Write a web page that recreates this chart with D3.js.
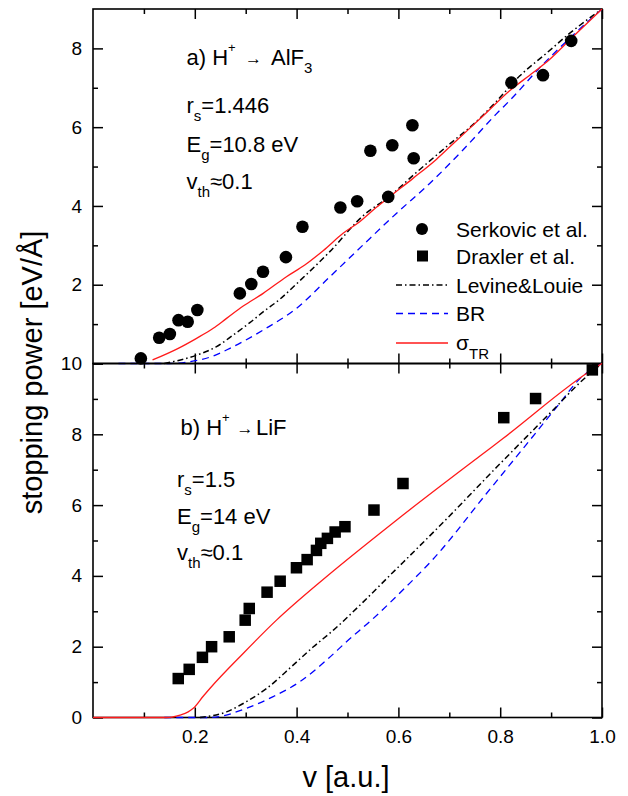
<!DOCTYPE html>
<html>
<head>
<meta charset="utf-8">
<script src="https://cdn.jsdelivr.net/npm/d3@7"></script>
<style>
  html, body { margin: 0; padding: 0; background: #fff; }
  svg { display: block; }
  text { font-family: "Liberation Sans", Arial, Helvetica, sans-serif; fill: #000; }
</style>
</head>
<body>
<svg id="chart" width="628" height="796"></svg>
<script>
// ---- data -------------------------------------------------------------
const xTickValues = [0.2, 0.4, 0.6, 0.8, 1.0];
const xMinorValues = [0.1, 0.3, 0.5, 0.7, 0.9];
const topMajor = [0, 2, 4, 6, 8];
const topMinor = [1, 3, 5, 7];
const botMajor = [0, 2, 4, 6, 8, 10];
const botMinor = [1, 3, 5, 7, 9];

// (a) H+ -> AlF3 : Serkovic et al. measurements
const serkovicV = [0.094, 0.130, 0.151, 0.168, 0.186, 0.205, 0.2885, 0.311, 0.334, 0.379, 0.4115,
                   0.486, 0.519, 0.545, 0.580, 0.588, 0.6275, 0.630, 0.822, 0.884, 0.9395];
const serkovicS = [0.13, 0.655, 0.75, 1.10, 1.06, 1.36, 1.78, 2.02, 2.33, 2.70, 3.47,
                   3.96, 4.12, 5.40, 4.23, 5.54, 6.05, 5.21, 7.13, 7.32, 8.19];

// (a) theory curves
const alf3LevineV = [0.14, 0.21, 0.2427, 0.2754, 0.3081, 0.3343, 0.367, 0.3997, 0.4652, 0.5306, 0.583,
                     0.6353, 0.694, 0.7596, 0.79, 0.8381, 0.8904, 0.9362, 1.0];
const alf3LevineS = [0, 0.241, 0.427, 0.723, 1.036, 1.31, 1.63, 2.02, 2.84, 3.75, 4.25,
                     4.85, 5.50, 6.22, 6.62, 7.297, 7.872, 8.38, 9.0];
const alf3BrV = [0.05, 0.15, 0.1904, 0.2362, 0.2689, 0.3343, 0.3997, 0.4652, 0.5306, 0.596, 0.6614,
                 0.7268, 0.792, 0.822, 0.877, 0.936, 1.0];
const alf3BrS = [0, 0, 0.047, 0.19, 0.385, 0.85, 1.40, 2.20, 3.01, 3.81, 4.57,
                 5.42, 6.33, 6.72, 7.50, 8.25, 9.0];
const alf3SigmaV = [0.117, 0.1675, 0.2035, 0.2362, 0.2624, 0.2951, 0.3343, 0.3801, 0.4161, 0.4521, 0.4913,
                    0.524, 0.5568, 0.5829, 0.6287, 0.6745, 0.7138, 0.7661, 0.8185, 0.8642, 0.897, 0.9362, 1.0];
const alf3SigmaS = [0.09, 0.385, 0.639, 0.893, 1.146, 1.459, 1.781, 2.204, 2.50, 2.864, 3.304,
                    3.60, 3.964, 4.234, 4.70, 5.182, 5.656, 6.282, 6.925, 7.381, 7.72, 8.211, 9.0];

// (b) H+ -> LiF : Draxler et al. measurements
const draxlerV = [0.1675, 0.189, 0.215, 0.233, 0.2676, 0.299, 0.307, 0.342, 0.3677, 0.3997, 0.4207,
                  0.439, 0.4475, 0.4605, 0.4757, 0.495, 0.552, 0.609, 0.807, 0.8695, 0.981];
const draxlerS = [1.10, 1.36, 1.70, 2.00, 2.28, 2.75, 3.08, 3.54, 3.85, 4.23, 4.46,
                  4.72, 4.92, 5.06, 5.24, 5.39, 5.86, 6.61, 8.47, 9.01, 9.82];

// (b) theory curves
const lifLevineV = [0.21, 0.2624, 0.3016, 0.341, 0.3932, 0.4324, 0.4717, 0.5306, 0.5829, 0.609,
                    0.694, 0.7923, 0.8512, 0.9035, 0.9558, 1.0];
const lifLevineS = [0, 0.16, 0.45, 0.82, 1.48, 1.99, 2.46, 3.26, 4.01, 4.38,
                    5.6, 7.06, 7.92, 8.68, 9.45, 10.0];
const lifBrV = [0.14, 0.23, 0.3016, 0.354, 0.4063, 0.4587, 0.498, 0.55, 0.6157, 0.668,
                0.7727, 0.8512, 0.9166, 0.9558, 1.0];
const lifBrS = [0, 0, 0.26, 0.59, 1.01, 1.62, 2.14, 2.79, 3.70, 4.47,
                6.32, 7.71, 8.87, 9.56, 10.0];
const lifSigmaV = [0, 0.145, 0.171, 0.187, 0.197, 0.2165, 0.2296, 0.295, 0.3605, 0.4521,
                   0.5633, 0.6091, 0.7596, 0.8054, 0.9886, 1.0];
const lifSigmaS = [0, 0, 0.07, 0.16, 0.26, 0.60, 0.82, 1.81, 2.75, 3.90,
                   5.20, 5.72, 7.38, 7.88, 9.90, 10.0];

const legendLabels = ["Serkovic et al.", "Draxler et al.", "Levine&Louie", "BR"];

// ---- layout -----------------------------------------------------------
const svg = d3.select("#chart");
const left = 93, right = 602;
const topY0 = 9, midY = 363.5, botY1 = 717.5;

const x = d3.scaleLinear().domain([0, 1]).range([left, right]);
const yTop = d3.scaleLinear().domain([0, 9]).range([midY, topY0]);
const yBot = d3.scaleLinear().domain([0, 10]).range([botY1, midY]);

const RED = "#ff1a1a", BLUE = "#0000ff";
const styles = {
  levine: { stroke: "#000", width: 1.5, dash: "6,3,1.5,3" },
  br:     { stroke: BLUE, width: 1.3, dash: "7,5" },
  sigma:  { stroke: RED, width: 1.3, dash: null }
};

const zip = (vs, ss) => vs.map((v, i) => [v, ss[i]]);

function axisStyle(g, fontSize) {
  g.select(".domain").remove();
  g.selectAll(".tick line").attr("stroke", "#000").attr("stroke-width", 1.5);
  g.selectAll(".tick text").style("font-size", fontSize + "px")
    .style("font-family", '"Liberation Sans", Arial, sans-serif').attr("fill", "#000");
}

function panel(yScale, major, minor, labelFilter, isBottom) {
  const g = svg.append("g");
  // left axis with labels
  g.append("g").attr("transform", `translate(${left},0)`)
    .call(d3.axisLeft(yScale).tickValues(major).tickSize(-10).tickPadding(11)
      .tickFormat(d => labelFilter(d) ? d : ""))
    .call(a => axisStyle(a, 19));
  g.append("g").attr("transform", `translate(${left},0)`)
    .call(d3.axisLeft(yScale).tickValues(minor).tickSize(-5).tickFormat(""))
    .call(a => axisStyle(a, 19));
  // right axis
  g.append("g").attr("transform", `translate(${right},0)`)
    .call(d3.axisRight(yScale).tickValues(major).tickSize(-10).tickFormat(""))
    .call(a => axisStyle(a, 19));
  g.append("g").attr("transform", `translate(${right},0)`)
    .call(d3.axisRight(yScale).tickValues(minor).tickSize(-5).tickFormat(""))
    .call(a => axisStyle(a, 19));
  const [y0, y1] = yScale.range();
  // top edge ticks (pointing down)
  g.append("g").attr("transform", `translate(0,${y1})`)
    .call(d3.axisTop(x).tickValues(xTickValues).tickSize(-10).tickFormat(""))
    .call(a => axisStyle(a, 19));
  g.append("g").attr("transform", `translate(0,${y1})`)
    .call(d3.axisTop(x).tickValues(xMinorValues).tickSize(-5).tickFormat(""))
    .call(a => axisStyle(a, 19));
  // bottom edge ticks (pointing up)
  const bottomAxis = d3.axisBottom(x).tickValues(xTickValues).tickSize(-10).tickPadding(12)
    .tickFormat(isBottom ? d3.format(".1f") : "");
  g.append("g").attr("transform", `translate(0,${y0})`)
    .call(bottomAxis).call(a => axisStyle(a, 19));
  g.append("g").attr("transform", `translate(0,${y0})`)
    .call(d3.axisBottom(x).tickValues(xMinorValues).tickSize(-5).tickFormat(""))
    .call(a => axisStyle(a, 19));
  // frame
  g.append("rect").attr("x", left).attr("y", y1).attr("width", right - left).attr("height", y0 - y1)
    .attr("fill", "none").attr("stroke", "#000").attr("stroke-width", 1.6);
  return g;
}

function curve(g, yScale, vs, ss, st) {
  const line = d3.line().x(d => x(d[0])).y(d => yScale(d[1])).curve(d3.curveMonotoneX);
  g.append("path").datum(zip(vs, ss)).attr("d", line)
    .attr("fill", "none").attr("stroke", st.stroke).attr("stroke-width", st.width)
    .attr("stroke-dasharray", st.dash);
}

// ---- panel (a) --------------------------------------------------------
const gTop = panel(yTop, topMajor, topMinor, d => d !== 0, false);
curve(gTop, yTop, alf3BrV, alf3BrS, styles.br);
curve(gTop, yTop, alf3LevineV, alf3LevineS, styles.levine);
curve(gTop, yTop, alf3SigmaV, alf3SigmaS, styles.sigma);
gTop.append("g").selectAll("circle").data(zip(serkovicV, serkovicS)).join("circle")
  .attr("cx", d => x(d[0])).attr("cy", d => yTop(d[1])).attr("r", 6.3).attr("fill", "#000");

// ---- panel (b) --------------------------------------------------------
const gBot = panel(yBot, botMajor, botMinor, () => true, true);
curve(gBot, yBot, lifBrV, lifBrS, styles.br);
curve(gBot, yBot, lifLevineV, lifLevineS, styles.levine);
curve(gBot, yBot, lifSigmaV, lifSigmaS, styles.sigma);
const sq = 11.5;
gBot.append("g").selectAll("rect").data(zip(draxlerV, draxlerS)).join("rect")
  .attr("x", d => x(d[0]) - sq / 2).attr("y", d => yBot(d[1]) - sq / 2)
  .attr("width", sq).attr("height", sq).attr("fill", "#000");

// ---- legend -----------------------------------------------------------
const leg = svg.append("g");
const legTextX = 456;
const legRows = [229, 256, 285, 313.5, 343];
leg.append("circle").attr("cx", 422).attr("cy", legRows[0]).attr("r", 6).attr("fill", "#000");
leg.append("rect").attr("x", 422.5 - 5.5).attr("y", legRows[1] - 5.5).attr("width", 11).attr("height", 11).attr("fill", "#000");
[styles.levine, styles.br, styles.sigma].forEach((st, i) => {
  leg.append("line").attr("x1", 396).attr("x2", 448).attr("y1", legRows[i + 2]).attr("y2", legRows[i + 2])
    .attr("stroke", st.stroke).attr("stroke-width", st.width + 0.2).attr("stroke-dasharray", st.dash);
});
legendLabels.forEach((t, i) => {
  leg.append("text").attr("x", legTextX).attr("y", legRows[i] + 7.5)
    .style("font-size", "21px").text(t);
});
const sig = leg.append("text").attr("x", legTextX).attr("y", legRows[4] + 7).style("font-size", "21px");
sig.append("tspan").text("σ");
sig.append("tspan").attr("dy", 9).style("font-size", "15px").text("TR");

// ---- annotations ------------------------------------------------------
function reaction(xs, y, label, name, sub, arrowX, targetX) {
  const t = svg.append("text").attr("x", xs).attr("y", y).style("font-size", "22px");
  t.append("tspan").text(label + ") H");
  t.append("tspan").attr("dy", -13).style("font-size", "13px").text("+");
  t.append("tspan").attr("x", arrowX).attr("dy", 12).style("font-size", "17px").text("→");
  t.append("tspan").attr("x", targetX).attr("dy", 1).text(name);
  if (sub) t.append("tspan").attr("dy", 8).style("font-size", "15px").text(sub);
}
function param(xs, y, main, sub, rest) {
  const t = svg.append("text").attr("x", xs).attr("y", y).style("font-size", "22px");
  t.append("tspan").text(main);
  t.append("tspan").attr("dy", 8).style("font-size", "15px").text(sub);
  t.append("tspan").attr("dy", -8).text(rest);
}
reaction(186.5, 65, "a", "AlF", "3", 245, 271);
param(186.5, 113, "r", "s", "=1.446");
param(186.5, 151.5, "E", "g", "=10.8 eV");
param(186.5, 188.5, "v", "th", "≈0.1");

reaction(180.5, 435, "b", "LiF", null, 236.5, 256);
param(177, 486.5, "r", "s", "=1.5");
param(177, 523.5, "E", "g", "=14 eV");
param(177, 560, "v", "th", "≈0.1");

// ---- axis titles ------------------------------------------------------
svg.append("text").attr("transform", "translate(42,372.5) rotate(-90)")
  .attr("text-anchor", "middle").style("font-size", "29px").text("stopping power [eV/Å]");
svg.append("text").attr("x", 346).attr("y", 787)
  .attr("text-anchor", "middle").style("font-size", "29px").text("v [a.u.]");
</script>
</body>
</html>
